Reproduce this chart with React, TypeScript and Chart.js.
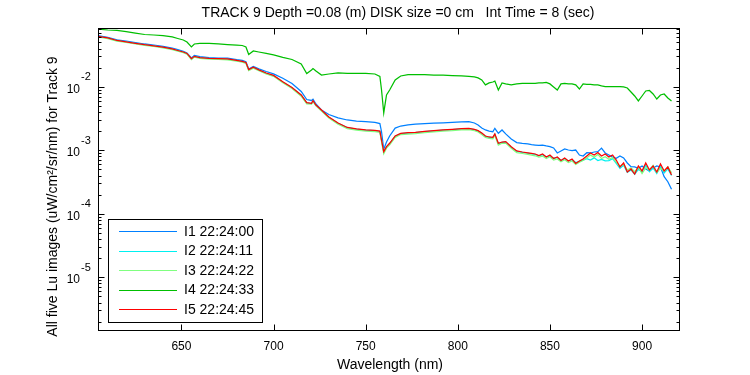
import React, { useEffect, useRef } from 'react';
import { Chart, registerables } from 'chart.js';

Chart.register(...registerables);

// ---------------- DATA ----------------
const wavelengths = [
  604.7, 610, 615, 620, 625, 630, 635, 640, 645, 648,
  651, 653, 655.4, 657, 660, 665, 670, 675, 680, 683,
  685, 686.5, 689, 692, 696, 700, 705, 710, 715, 718,
  720.6, 721.4, 723, 726, 730, 735, 740, 745, 750, 755,
  757.7, 758.6, 759.8, 761.3, 763, 766, 769, 773, 777, 782,
  787, 792, 797, 802, 806, 809, 811, 813, 815, 817,
  819, 820.1, 822, 824, 826, 829, 832, 835, 838, 840,
  842, 844, 846, 848, 850, 852, 854, 856, 858, 860,
  862, 864, 866, 868, 870, 872, 874, 876, 878, 880,
  882, 884, 886, 888, 890, 892, 894, 896, 898, 900,
  902, 904, 906, 908, 910, 912, 914, 916,
];

const i1Values = [
  0.0640, 0.0602, 0.0550, 0.0526, 0.0498, 0.0472, 0.0455, 0.0434, 0.0408, 0.0384,
  0.0362, 0.0341, 0.0284, 0.0311, 0.0298, 0.0289, 0.0284, 0.0282, 0.0267, 0.0260,
  0.0249, 0.0191, 0.0209, 0.0191, 0.0174, 0.0160, 0.0136, 0.01127, 0.00843, 0.00631,
  0.00609, 0.00636, 0.00536, 0.00431, 0.00366, 0.00323, 0.00300, 0.00289, 0.00282, 0.00274,
  0.00264, 0.00196, 0.00104, 0.00135, 0.00168, 0.00224, 0.00241, 0.00252, 0.00259, 0.00264,
  0.00267, 0.00271, 0.00275, 0.00279, 0.00282, 0.00269, 0.00250, 0.00224, 0.00209, 0.00201,
  0.00196, 0.00222, 0.00185, 0.00209, 0.00181, 0.00151, 0.00132, 0.00128, 0.00126, 0.00123,
  0.00121, 0.00119, 0.00121, 0.00117, 0.00114, 0.00109, 9.07e-4, 9.75e-4, 0.00105, 0.00101,
  9.86e-4, 0.00101, 8.43e-4, 8.13e-4, 9.17e-4, 9.07e-4, 9.40e-4, 9.51e-4, 0.00108, 9.07e-4,
  8.43e-4, 7.84e-4, 7.48e-4, 8.13e-4, 7.56e-4, 6.31e-4, 5.52e-4, 5.46e-4, 5.21e-4, 5.66e-4,
  5.07e-4, 4.72e-4, 5.26e-4, 5.66e-4, 5.46e-4, 3.84e-4, 3.20e-4, 2.43e-4,
];

const i2Values = [
  0.0620, 0.0584, 0.0534, 0.0508, 0.0481, 0.0457, 0.0439, 0.0418, 0.0392, 0.0371,
  0.0351, 0.0333, 0.0274, 0.0300, 0.0287, 0.0279, 0.0275, 0.0272, 0.0258, 0.0250,
  0.0239, 0.0184, 0.0201, 0.0183, 0.0163, 0.0149, 0.0119, 0.00965, 0.00735, 0.00556,
  0.00545, 0.00598, 0.00512, 0.00427, 0.00332, 0.00266, 0.00227, 0.00215, 0.00208, 0.00204,
  0.00199, 0.00143, 0.000935, 0.00112, 0.00127, 0.00166, 0.00183, 0.00187, 0.00190, 0.00196,
  0.00202, 0.00207, 0.00212, 0.00218, 0.00220, 0.00211, 0.00202, 0.00185, 0.00165, 0.00160,
  0.00158, 0.00179, 0.00126, 0.00133, 0.00135, 0.00112, 0.00096, 0.00093, 0.00090, 0.00088,
  8.6e-4, 8.2e-4, 8.5e-4, 7.9e-4, 8.1e-4, 7.5e-4, 7.7e-4, 6.9e-4, 7.4e-4, 6.8e-4,
  7.1e-4, 6.4e-4, 6.7e-4, 7.0e-4, 7.4e-4, 7.0e-4, 7.6e-4, 6.9e-4, 7.2e-4, 6.8e-4,
  6.9e-4, 7.4e-4, 6.2e-4, 5.2e-4, 5.8e-4, 4.5e-4, 4.9e-4, 4.2e-4, 5.0e-4, 4.6e-4,
  5.8e-4, 4.6e-4, 5.3e-4, 4.3e-4, 5.6e-4, 4.4e-4, 5.1e-4, 4.0e-4,
];

const i3Values = [
  0.0610, 0.0574, 0.0524, 0.0499, 0.0472, 0.0449, 0.0431, 0.0410, 0.0384, 0.0364,
  0.0344, 0.0327, 0.0268, 0.0294, 0.0281, 0.0273, 0.0270, 0.0266, 0.0253, 0.0245,
  0.0234, 0.0180, 0.0197, 0.0179, 0.0160, 0.0146, 0.0116, 0.0094, 0.0071, 0.0054,
  0.00532, 0.00585, 0.00500, 0.00415, 0.00322, 0.00257, 0.00219, 0.00207, 0.00200, 0.00196,
  0.00192, 0.00137, 0.00088, 0.00108, 0.00122, 0.00160, 0.00177, 0.00180, 0.00183, 0.00189,
  0.00195, 0.00200, 0.00204, 0.00210, 0.00212, 0.00203, 0.00195, 0.00178, 0.00160, 0.00154,
  0.00152, 0.00172, 0.00121, 0.00129, 0.00130, 0.00108, 0.00092, 0.00089, 0.00086, 0.00084,
  8.2e-4, 7.8e-4, 8.1e-4, 7.4e-4, 7.9e-4, 7.0e-4, 7.3e-4, 6.6e-4, 7.1e-4, 6.4e-4,
  6.8e-4, 6.0e-4, 6.5e-4, 6.9e-4, 7.6e-4, 8.4e-4, 7.8e-4, 8.6e-4, 7.4e-4, 7.9e-4,
  7.2e-4, 7.7e-4, 6.5e-4, 5.6e-4, 6.0e-4, 4.9e-4, 5.3e-4, 4.6e-4, 5.4e-4, 4.3e-4,
  5.3e-4, 4.9e-4, 5.8e-4, 4.5e-4, 5.2e-4, 4.7e-4, 5.5e-4, 4.4e-4,
];

const i4Values = [
  0.0813, 0.0784, 0.0770, 0.0742, 0.0703, 0.0666, 0.0654, 0.0642, 0.0609, 0.0576,
  0.0546, 0.0508, 0.0424, 0.0472, 0.0481, 0.0481, 0.0472, 0.0463, 0.0455, 0.0447,
  0.0424, 0.0323, 0.0366, 0.0353, 0.0335, 0.0317, 0.0290, 0.0269, 0.0229, 0.0162,
  0.0184, 0.0194, 0.0177, 0.0153, 0.0159, 0.0165, 0.0162, 0.0162, 0.0162, 0.0159,
  0.01455, 0.00891, 0.00387, 0.00743, 0.00891, 0.0128, 0.0148, 0.0156, 0.0156, 0.0156,
  0.0153, 0.0153, 0.01505, 0.0148, 0.01455, 0.0143, 0.0138, 0.0128, 0.0107, 0.0115,
  0.0119, 0.0123, 0.00891, 0.0115, 0.0111, 0.0107, 0.0111, 0.0113, 0.0113, 0.0113,
  0.0113, 0.0115, 0.0115, 0.0117, 0.0111, 0.00993, 0.00891, 0.0111, 0.0113, 0.0111,
  0.0111, 0.0107, 0.00923, 0.0111, 0.0109, 0.0109, 0.0107, 0.0107, 0.0103, 0.0101,
  0.0101, 0.0101, 0.0101, 0.0101, 0.00993, 0.00957, 0.00828, 0.00716, 0.00598, 0.00716,
  0.00859, 0.00875, 0.00770, 0.00642, 0.00743, 0.00770, 0.00666, 0.00598,
];

const i5Values = [
  0.0624, 0.0587, 0.0536, 0.0511, 0.0484, 0.0460, 0.0442, 0.0420, 0.0394, 0.0373,
  0.0353, 0.0335, 0.0277, 0.0302, 0.0289, 0.0281, 0.0277, 0.0274, 0.0260, 0.0252,
  0.0241, 0.0186, 0.0203, 0.0185, 0.0165, 0.0151, 0.0120, 0.00975, 0.00743, 0.00562,
  0.00550, 0.00604, 0.00517, 0.00431, 0.00335, 0.00269, 0.00229, 0.00217, 0.00209, 0.00205,
  0.00201, 0.00145, 0.000951, 0.00114, 0.00129, 0.00168, 0.00185, 0.00189, 0.00192, 0.00198,
  0.00204, 0.00209, 0.00214, 0.00220, 0.00222, 0.00213, 0.00204, 0.00187, 0.00168, 0.00162,
  0.00160, 0.00181, 0.00129, 0.00135, 0.00137, 0.00114, 0.000975, 0.00094, 0.000913, 0.000897,
  8.74e-4, 8.28e-4, 8.74e-4, 7.84e-4, 8.43e-4, 7.43e-4, 7.84e-4, 6.91e-4, 7.56e-4, 6.78e-4,
  7.29e-4, 6.20e-4, 6.78e-4, 7.29e-4, 8.13e-4, 9.07e-4, 8.43e-4, 9.23e-4, 8.13e-4, 8.74e-4,
  7.84e-4, 8.43e-4, 7.03e-4, 5.46e-4, 6.31e-4, 4.55e-4, 5.07e-4, 4.23e-4, 5.66e-4, 4.72e-4,
  6.31e-4, 4.89e-4, 5.66e-4, 4.55e-4, 6.08e-4, 4.72e-4, 5.46e-4, 4.08e-4,
];

const seriesLabels = ['I1 22:24:00', 'I2 22:24:11', 'I3 22:24:22', 'I4 22:24:33', 'I5 22:24:45'];
const seriesColors = ['#0080ff', '#00f0f0', '#80ff80', '#00bf00', '#ff0000'];
const seriesOrder = [4, 3, 2, 1, 0];

const xTickValues = [650, 700, 750, 800, 850, 900];
const yTickExponents = [-2, -3, -4, -5];
const yMinorMultipliers = [2, 3, 4, 5, 6, 7, 8, 9];
const yMinorExponents = [-6, -5, -4, -3, -2];

const xMin = 604.7;
const xMax = 920.6;
const yMin = 1.426e-6;
const yMax = 0.0843;

const titleText = 'TRACK 9 Depth =0.08 (m) DISK size =0 cm   Int Time = 8 (sec)';
const xLabelText = 'Wavelength (nm)';
const yLabelText = 'All five Lu images (uW/cm\u00B2/sr/nm) for Track 9';

const FONT = '"Liberation Sans", Arial, Helvetica, sans-serif';

const framePlugin = {
  id: 'matlabFrame',
  afterDraw(chart: any) {
    const { ctx, chartArea: a, scales } = chart;
    const xs = scales.x;
    const ys = scales.y;
    ctx.save();
    ctx.strokeStyle = '#000';
    ctx.fillStyle = '#000';
    ctx.lineWidth = 1;
    const L = Math.round(a.left) + 0.5;
    const R = Math.round(a.right) - 0.5;
    const T = Math.round(a.top) + 0.5;
    const B = Math.round(a.bottom) - 0.5;
    ctx.strokeRect(L, T, R - L, B - T);

    ctx.beginPath();
    xTickValues.forEach((v) => {
      const px = Math.round(xs.getPixelForValue(v)) + 0.5;
      ctx.moveTo(px, B);
      ctx.lineTo(px, B - 6);
      ctx.moveTo(px, T);
      ctx.lineTo(px, T + 6);
    });
    yTickExponents.forEach((e) => {
      const py = Math.round(ys.getPixelForValue(Math.pow(10, e))) + 0.5;
      ctx.moveTo(L, py);
      ctx.lineTo(L + 6, py);
      ctx.moveTo(R, py);
      ctx.lineTo(R - 6, py);
    });
    yMinorExponents.forEach((e) => {
      yMinorMultipliers.forEach((m) => {
        const v = m * Math.pow(10, e);
        if (v < yMin || v > yMax) return;
        const py = Math.round(ys.getPixelForValue(v)) + 0.5;
        ctx.moveTo(L, py);
        ctx.lineTo(L + 3, py);
        ctx.moveTo(R, py);
        ctx.lineTo(R - 3, py);
      });
    });
    ctx.stroke();

    // x tick labels
    ctx.font = '12px ' + FONT;
    ctx.textAlign = 'center';
    ctx.textBaseline = 'alphabetic';
    xTickValues.forEach((v) => {
      ctx.fillText(String(v), xs.getPixelForValue(v), 350);
    });

    // y tick labels (10^e)
    yTickExponents.forEach((e) => {
      const py = ys.getPixelForValue(Math.pow(10, e));
      ctx.font = '12px ' + FONT;
      ctx.textAlign = 'right';
      ctx.fillText('10', 80, py + 6);
      ctx.font = '11px ' + FONT;
      ctx.textAlign = 'left';
      ctx.fillText(String(e), 81, py - 6.5);
    });

    // title
    ctx.font = '14px ' + FONT;
    ctx.textAlign = 'center';
    ctx.fillText(titleText, 398, 17);

    // x label
    ctx.fillText(xLabelText, 390, 369);

    // y label
    ctx.save();
    ctx.translate(57, 196.5);
    ctx.rotate(-Math.PI / 2);
    ctx.textAlign = 'center';
    ctx.fillText(yLabelText, 0, 0);
    ctx.restore();

    // legend
    const lx = 108.5;
    const ly = 219.5;
    ctx.fillStyle = '#fff';
    ctx.fillRect(lx, ly, 154, 103);
    ctx.strokeStyle = '#000';
    ctx.strokeRect(lx, ly, 154, 103);
    const rowY = [231, 250.5, 270, 289.5, 309];
    seriesLabels.forEach((lab, i) => {
      const y = Math.round(rowY[i]) + 0.5;
      ctx.strokeStyle = seriesColors[i];
      ctx.beginPath();
      ctx.moveTo(119, y);
      ctx.lineTo(177, y);
      ctx.stroke();
      ctx.fillStyle = '#000';
      ctx.font = '14px ' + FONT;
      ctx.textAlign = 'left';
      ctx.textBaseline = 'middle';
      ctx.fillText(lab, 184, rowY[i] + 1);
    });
    ctx.restore();
  },
};

export default function App() {
  const canvasRef = useRef<HTMLCanvasElement | null>(null);

  useEffect(() => {
    const canvas = canvasRef.current;
    if (!canvas) return;
    const allValues = [i1Values, i2Values, i3Values, i4Values, i5Values];
    const chart = new Chart(canvas, {
      type: 'line',
      data: {
        datasets: allValues.map((vals, i) => ({
          label: seriesLabels[i],
          data: wavelengths.map((w, k) => ({ x: w, y: vals[k] })),
          borderColor: seriesColors[i],
          backgroundColor: seriesColors[i],
          borderWidth: 1.25,
          pointRadius: 0,
          tension: 0,
          fill: false,
          order: seriesOrder[i],
        })),
      },
      options: {
        animation: false,
        responsive: false,
        devicePixelRatio: 1,
        layout: { padding: { top: 28, right: 70, left: 0, bottom: 0 } },
        plugins: {
          legend: { display: false },
          tooltip: { enabled: false },
          title: { display: false },
        },
        scales: {
          x: {
            type: 'linear',
            min: xMin,
            max: xMax,
            bounds: 'data',
            grid: { display: false, drawTicks: false },
            border: { display: false },
            ticks: { display: false },
            afterFit: (scale: any) => {
              scale.height = 44;
            },
          },
          y: {
            type: 'logarithmic',
            min: yMin,
            max: yMax,
            bounds: 'data',
            grid: { display: false, drawTicks: false },
            border: { display: false },
            ticks: { display: false },
            afterFit: (scale: any) => {
              scale.width = 98;
            },
          },
        },
      } as any,
      plugins: [framePlugin],
    });
    return () => chart.destroy();
  }, []);

  return (
    <div style={{ position: 'fixed', left: 0, top: 0, width: 750, height: 375, background: '#fff' }}>
      <canvas ref={canvasRef} width={750} height={375} style={{ display: 'block' }} />
    </div>
  );
}
